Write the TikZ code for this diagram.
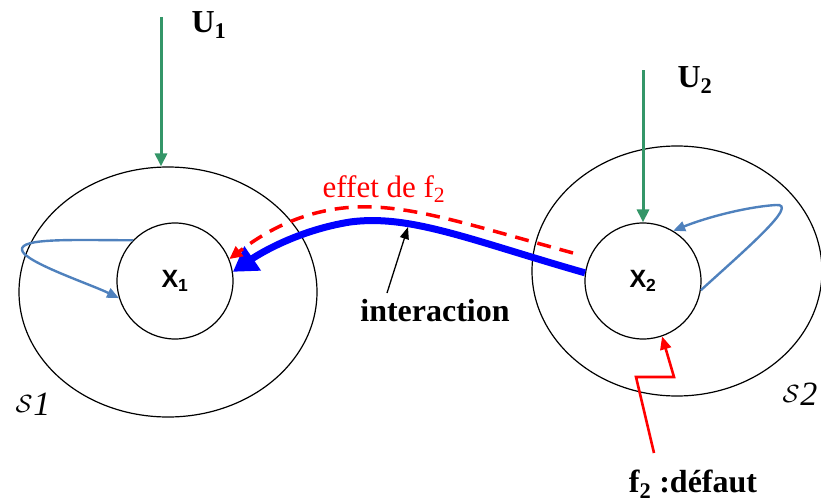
\documentclass[tikz,border=0pt]{standalone}
\usepackage{fontspec}
\setmainfont{Liberation Serif}
\newfontfamily\arialfam{Liberation Sans}
\usetikzlibrary{shapes.geometric,arrows.meta}
\definecolor{ugreen}{RGB}{52,150,104}
\definecolor{loopblue}{RGB}{79,129,189}
\newcommand{\sysS}[1]{$\mathcal{S}$\kern1pt\lower3pt\hbox{\textit{#1}}}
\tikzset{
  outer/.style={draw,ellipse,inner sep=0pt,line width=1.2pt},
  inner/.style={draw,circle,inner sep=0pt,minimum size=116pt,line width=1.2pt,font=\fontsize{25}{29}\selectfont\arialfam\bfseries},
  inarrow/.style={draw=ugreen,line width=3pt,-{Triangle[length=13pt,width=12pt]}},
  loop/.style={draw=loopblue,line width=2.4pt,-{Triangle[length=12pt,width=10pt]}},
  lbl/.style={font=\fontsize{32}{36}\selectfont\bfseries},
  sysname/.style={font=\fontsize{34}{38}\selectfont},
}
\begin{document}
\begin{tikzpicture}[x=1pt,y=-1pt]
\useasboundingbox (0,0) rectangle (821,503);
% systems
\node[outer,minimum width=298pt,minimum height=250pt] (S1) at (168,292) {};
\node[outer,minimum width=290pt,minimum height=250pt] (S2) at (677,271) {};
\node[inner] (X1) at (175,281) {X\textsubscript{1}};
\node[inner] (X2) at (643,281) {X\textsubscript{2}};
% inputs
\coordinate (u1top) at (161,17);
\coordinate (u2top) at (643,70);
\draw[inarrow] (u1top) -- (u1top |- S1.north);
\draw[inarrow] (u2top) -- (X2.north);
\node[lbl,anchor=west] (U1) at (188,25) {U\textsubscript{1}};
\node[lbl,anchor=west] (U2) at (674,80) {U\textsubscript{2}};
% internal loops
\draw[loop] (X1.136) .. controls (70,240) and (20,238) .. (22,250)
   .. controls (24,262) and (90,284) .. (X1.197);
\draw[loop] (X2.351) .. controls (745,250) and (800,203) .. (776,205)
   .. controls (745,207) and (705,218) .. (X2.59);
% interaction
\draw[blue,line width=7pt,-{Triangle[length=24pt,width=28pt]}]
   (X2.172) .. controls (470,240) and (410,214) .. (350,222)
   .. controls (300,230) and (262,252) .. (X1.9);
\coordinate (effstart) at (573,253);
\draw[red,line width=3.5pt,dash pattern=on 14pt off 9pt,-{Triangle[length=13pt,width=12pt]}]
   (effstart) .. controls (460,222) and (410,205) .. (355,207)
   .. controls (300,210) and (262,234) .. (X1.22);
\node[red,font=\fontsize{31}{35}\selectfont] (eff) at (384,189) {effet de f\textsubscript{2}};
\node[lbl] (inter) at (435,311) {interaction};
\coordinate (onblue) at (408,227);
\draw[line width=1.3pt,-{Triangle[length=12pt,width=9pt]}] (387,293) -- (onblue);
% default
\draw[red,line width=2.6pt,-{Triangle[length=13pt,width=11pt]}]
   (654,453) -- (636,377) -- (674,377) -- (X2.289);
\node[lbl] (f2) at (693,484) {f\textsubscript{2} :défaut};
% system names
\node[sysname] (n1) at (33,404) {\sysS{1}};
\node[sysname] (n2) at (800,394) {\sysS{2}};
\end{tikzpicture}
\end{document}
